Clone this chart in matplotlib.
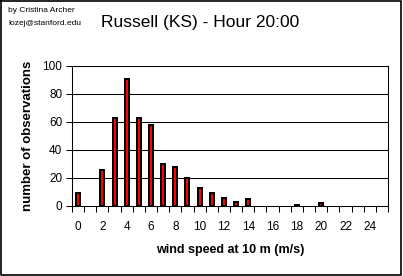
import matplotlib
matplotlib.use("Agg")
import matplotlib.pyplot as plt
from matplotlib.lines import Line2D
import numpy as np

plt.rcParams["font.family"] = ["Liberation Sans", "DejaVu Sans"]

# wind speed bins (m/s) and counts
speeds = list(range(26))
counts = [9, 0, 26, 63, 91, 63, 58, 30, 28, 20, 13, 9, 6, 3, 5,
          0, 0, 0, 1, 0, 2, 0, 0, 0, 0, 0]
tick_labels = [str(s) for s in range(0, 25, 2)]
yticks = [0, 20, 40, 60, 80, 100]

W, H = 403, 276
fig = plt.figure(figsize=(W / 100, H / 100), dpi=100)
ax = fig.add_axes([72 / W, 1 - 206 / H, (388 - 72) / W, (206 - 66) / H])

# empty bins are not drawn at all
nz = [(s, c) for s, c in zip(speeds, counts) if c > 0]
ax.bar([s for s, _ in nz], [c for _, c in nz], width=0.33, color="#ff0000",
       edgecolor="black", linewidth=1.44, zorder=3)

ax.set_xlim(-0.5, 25.5)
ax.set_ylim(0, 100)
ax.set_yticks(yticks)
ax.set_yticklabels([str(v) for v in yticks], fontsize=8.5)
for y in yticks[1:]:
    ax.axhline(y, color="black", linewidth=0.75, zorder=1)

# ticks at bin boundaries, labels centred on every second bin
ax.set_xticks(np.arange(-0.5, 26, 1))
ax.set_xticklabels([])
ax.set_xticks(range(0, 25, 2), minor=True)
ax.set_xticklabels(tick_labels, minor=True, fontsize=8.5)
ax.tick_params(axis="x", which="major", length=4, width=0.75, direction="out")
ax.tick_params(axis="x", which="minor", length=0, pad=11)
ax.tick_params(axis="y", length=4, width=0.75, pad=3)

for s in ["left", "bottom", "right", "top"]:
    ax.spines[s].set_linewidth(0.75)
    ax.spines[s].set_color("black")

ax.set_xlabel("wind speed at 10 m (m/s)", fontsize=9, fontweight="bold",
              labelpad=8)
ax.set_ylabel("number of observations", fontsize=9.5, fontweight="bold",
              labelpad=6)

fig.text(200 / W, 1 - 23 / H, "Russell (KS) - Hour 20:00", fontsize=12.5,
         ha="center", va="center")
fig.text(8 / W, 1 - 11 / H, "by Cristina Archer", fontsize=6,
         ha="left", va="center")
fig.text(8 / W, 1 - 24 / H, "lozej@stanford.edu", fontsize=6,
         ha="left", va="center")

# chart border
pts = [(0.5, 0.5), (400.5, 0.5), (400.5, 274.5), (0.5, 274.5), (0.5, 0.5)]
fig.add_artist(Line2D([p[0] / W for p in pts], [1 - p[1] / H for p in pts],
                      color="black", linewidth=1.2, transform=fig.transFigure))

fig.savefig("out.png", dpi=100)
